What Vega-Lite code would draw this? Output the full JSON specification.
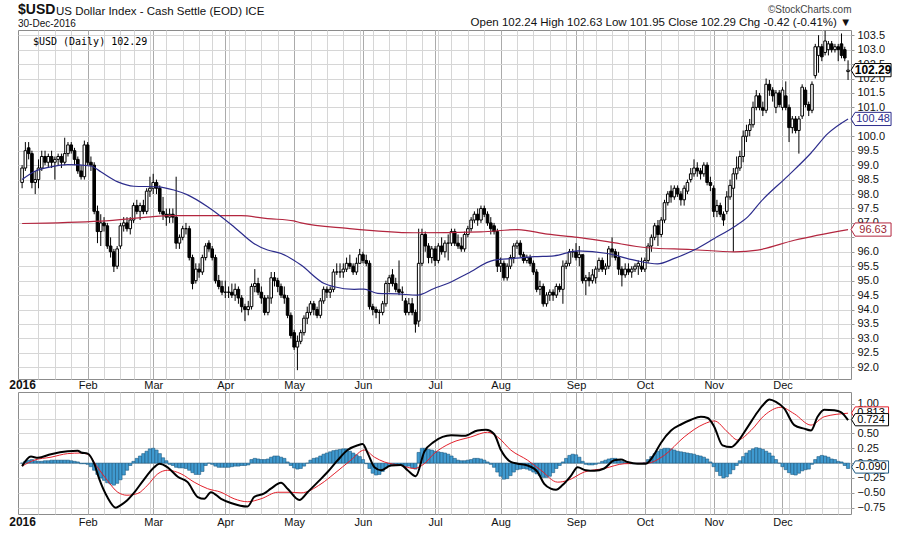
{
"$schema": "https://vega.github.io/schema/vega-lite/v6.json",
"background": "white",
"padding": {"left": 8, "top": 2, "right": 2, "bottom": 1},
"config": {
  "font": "Liberation Sans",
  "view": {"stroke": "#8c8c8c"},
  "axis": {"labelFont": "Liberation Sans", "labelColor": "#111111", "labelFontSize": 11, "gridColor": "#d6d6d6", "domain": false, "ticks": false, "labelOverlap": false},
  "title": {"font": "Liberation Sans", "color": "#111111", "subtitleFont": "Liberation Sans", "subtitleColor": "#111111"}
},
"title": {"text": "$USD", "subtitle": "30-Dec-2016", "anchor": "start", "fontSize": 14, "fontWeight": "bold", "subtitleFontSize": 10, "subtitlePadding": 2, "offset": -25, "dx": 0, "frame": "group"},
"spacing": 0,
"datasets": {
"px": [
{"i":0,"o":98.4,"h":99.0,"l":98.2,"c":98.9},{"i":1,"o":98.9,"h":99.8,"l":98.8,"c":99.5},{"i":2,"o":99.6,"h":99.8,"l":99.2,"c":99.4},{"i":3,"o":99.4,"h":99.5,"l":98.2,"c":98.4},{"i":4,"o":98.4,"h":98.8,"l":98.0,"c":98.5},
{"i":5,"o":98.5,"h":99.2,"l":98.2,"c":98.9},{"i":6,"o":98.9,"h":99.5,"l":98.8,"c":99.3},{"i":7,"o":99.3,"h":99.5,"l":99.0,"c":99.1},{"i":8,"o":99.1,"h":99.4,"l":98.9,"c":99.3},{"i":9,"o":99.3,"h":99.5,"l":98.9,"c":99.1},
{"i":10,"o":99.1,"h":99.3,"l":98.5,"c":99.2},{"i":11,"o":99.2,"h":99.4,"l":99.0,"c":99.3},{"i":12,"o":99.3,"h":99.4,"l":98.9,"c":99.1},{"i":13,"o":99.1,"h":99.95,"l":99.0,"c":99.4},{"i":14,"o":99.4,"h":99.8,"l":99.3,"c":99.7},
{"i":15,"o":99.7,"h":99.8,"l":99.4,"c":99.5},{"i":16,"o":99.5,"h":99.6,"l":99.0,"c":99.2},{"i":17,"o":99.2,"h":99.3,"l":98.7,"c":98.8},{"i":18,"o":98.8,"h":99.0,"l":98.5,"c":98.6},{"i":19,"o":98.6,"h":99.85,"l":98.5,"c":99.7},
{"i":20,"o":99.7,"h":99.8,"l":99.0,"c":99.1},{"i":21,"o":99.1,"h":99.3,"l":98.8,"c":99.0},{"i":22,"o":99.0,"h":99.1,"l":97.3,"c":97.4},{"i":23,"o":97.4,"h":97.6,"l":96.3,"c":96.7},{"i":24,"o":96.7,"h":97.3,"l":96.2,"c":97.0},
{"i":25,"o":97.0,"h":97.2,"l":96.7,"c":96.9},{"i":26,"o":96.9,"h":97.0,"l":96.1,"c":96.2},{"i":27,"o":96.2,"h":96.5,"l":95.8,"c":96.0},{"i":28,"o":96.0,"h":96.1,"l":95.3,"c":95.5},{"i":29,"o":95.5,"h":96.2,"l":95.4,"c":96.1},
{"i":30,"o":96.2,"h":97.0,"l":96.1,"c":96.9},{"i":31,"o":96.9,"h":97.2,"l":96.7,"c":97.0},{"i":32,"o":97.0,"h":97.2,"l":96.7,"c":96.8},{"i":33,"o":96.8,"h":97.2,"l":96.6,"c":97.1},{"i":34,"o":97.1,"h":97.7,"l":97.0,"c":97.6},
{"i":35,"o":97.6,"h":97.8,"l":97.3,"c":97.4},{"i":36,"o":97.4,"h":97.7,"l":97.1,"c":97.6},{"i":37,"o":97.6,"h":97.8,"l":97.3,"c":97.4},{"i":38,"o":97.4,"h":98.2,"l":97.3,"c":98.1},{"i":39,"o":98.1,"h":98.6,"l":97.9,"c":98.2},
{"i":40,"o":98.2,"h":98.7,"l":98.0,"c":98.4},{"i":41,"o":98.4,"h":98.5,"l":98.0,"c":98.2},{"i":42,"o":98.2,"h":98.3,"l":97.3,"c":97.4},{"i":43,"o":97.4,"h":97.9,"l":97.1,"c":97.3},{"i":44,"o":97.3,"h":97.5,"l":96.9,"c":97.2},
{"i":45,"o":97.2,"h":97.5,"l":97.0,"c":97.3},{"i":46,"o":97.3,"h":97.5,"l":97.0,"c":97.2},{"i":47,"o":97.2,"h":98.6,"l":96.1,"c":96.3},{"i":48,"o":96.3,"h":96.6,"l":96.1,"c":96.5},{"i":49,"o":96.5,"h":96.9,"l":96.4,"c":96.8},
{"i":50,"o":96.8,"h":97.0,"l":96.6,"c":96.8},{"i":51,"o":96.8,"h":96.9,"l":95.7,"c":95.8},{"i":52,"o":95.8,"h":95.9,"l":94.7,"c":94.9},{"i":53,"o":95.0,"h":95.6,"l":94.9,"c":95.4},{"i":54,"o":95.4,"h":95.6,"l":95.1,"c":95.3},
{"i":55,"o":95.3,"h":95.9,"l":95.2,"c":95.8},{"i":56,"o":95.8,"h":96.3,"l":95.7,"c":96.2},{"i":57,"o":96.3,"h":96.4,"l":96.0,"c":96.1},{"i":58,"o":96.1,"h":96.2,"l":95.7,"c":95.8},{"i":59,"o":95.8,"h":95.9,"l":94.9,"c":95.0},
{"i":60,"o":95.0,"h":95.2,"l":94.7,"c":94.8},{"i":61,"o":94.8,"h":95.0,"l":94.5,"c":94.6},{"i":62,"o":94.6,"h":95.0,"l":94.4,"c":94.6},{"i":63,"o":94.6,"h":94.8,"l":94.4,"c":94.6},{"i":64,"o":94.6,"h":94.9,"l":94.4,"c":94.5},
{"i":65,"o":94.5,"h":94.9,"l":94.3,"c":94.7},{"i":66,"o":94.7,"h":94.8,"l":94.2,"c":94.4},{"i":67,"o":94.4,"h":94.5,"l":93.9,"c":94.1},{"i":68,"o":94.1,"h":94.2,"l":93.6,"c":94.0},{"i":69,"o":94.0,"h":94.3,"l":93.8,"c":94.1},
{"i":70,"o":94.1,"h":94.9,"l":94.0,"c":94.8},{"i":71,"o":94.8,"h":95.4,"l":94.6,"c":94.9},{"i":72,"o":94.9,"h":95.1,"l":94.5,"c":94.6},{"i":73,"o":94.6,"h":94.8,"l":94.2,"c":94.4},{"i":74,"o":94.4,"h":94.5,"l":93.8,"c":93.9},
{"i":75,"o":93.9,"h":94.5,"l":93.8,"c":94.4},{"i":76,"o":94.4,"h":95.3,"l":94.2,"c":95.1},{"i":77,"o":95.1,"h":95.3,"l":94.8,"c":95.0},{"i":78,"o":95.0,"h":95.1,"l":94.6,"c":94.8},{"i":79,"o":94.8,"h":94.9,"l":94.4,"c":94.5},
{"i":80,"o":94.5,"h":94.8,"l":94.2,"c":94.4},{"i":81,"o":94.4,"h":94.5,"l":93.7,"c":93.8},{"i":82,"o":93.8,"h":93.9,"l":93.0,"c":93.1},{"i":83,"o":93.2,"h":93.3,"l":92.6,"c":92.7},{"i":84,"o":92.7,"h":93.1,"l":91.9,"c":92.9},
{"i":85,"o":92.9,"h":93.3,"l":92.8,"c":93.2},{"i":86,"o":93.2,"h":93.8,"l":93.1,"c":93.7},{"i":87,"o":93.7,"h":94.1,"l":93.5,"c":93.9},{"i":88,"o":93.9,"h":94.3,"l":93.8,"c":94.2},{"i":89,"o":94.2,"h":94.3,"l":93.8,"c":94.0},
{"i":90,"o":94.0,"h":94.1,"l":93.7,"c":93.8},{"i":91,"o":93.8,"h":94.4,"l":93.7,"c":94.3},{"i":92,"o":94.3,"h":94.8,"l":94.2,"c":94.7},{"i":93,"o":94.7,"h":94.8,"l":94.4,"c":94.6},{"i":94,"o":94.6,"h":94.8,"l":94.4,"c":94.7},
{"i":95,"o":94.7,"h":95.4,"l":94.6,"c":95.3},{"i":96,"o":95.3,"h":95.6,"l":95.2,"c":95.3},{"i":97,"o":95.3,"h":95.6,"l":95.1,"c":95.3},{"i":98,"o":95.3,"h":95.6,"l":95.1,"c":95.4},{"i":99,"o":95.4,"h":95.8,"l":95.3,"c":95.6},
{"i":100,"o":95.6,"h":95.9,"l":95.4,"c":95.5},{"i":101,"o":95.5,"h":95.6,"l":95.2,"c":95.3},{"i":102,"o":95.3,"h":95.8,"l":95.2,"c":95.6},{"i":103,"o":95.6,"h":96.1,"l":95.6,"c":95.9},{"i":104,"o":95.9,"h":96.0,"l":95.6,"c":95.7},
{"i":105,"o":95.7,"h":95.9,"l":95.5,"c":95.6},{"i":106,"o":95.6,"h":95.7,"l":94.0,"c":94.1},{"i":107,"o":94.1,"h":94.2,"l":93.8,"c":94.0},{"i":108,"o":94.0,"h":94.1,"l":93.7,"c":93.9},{"i":109,"o":93.9,"h":94.0,"l":93.5,"c":93.9},
{"i":110,"o":93.9,"h":94.3,"l":93.8,"c":94.2},{"i":111,"o":94.2,"h":95.0,"l":94.1,"c":94.9},{"i":112,"o":94.9,"h":95.2,"l":94.6,"c":95.1},{"i":113,"o":95.2,"h":95.4,"l":94.8,"c":94.9},{"i":114,"o":94.9,"h":95.1,"l":94.6,"c":94.7},
{"i":115,"o":94.7,"h":95.7,"l":94.5,"c":94.6},{"i":116,"o":94.6,"h":94.8,"l":94.3,"c":94.6},{"i":117,"o":94.3,"h":94.4,"l":93.8,"c":93.9},{"i":118,"o":93.9,"h":94.4,"l":93.8,"c":94.2},{"i":119,"o":94.2,"h":94.4,"l":93.8,"c":93.9},
{"i":120,"o":93.9,"h":94.0,"l":93.2,"c":93.5},{"i":121,"o":93.6,"h":96.8,"l":93.4,"c":95.6},{"i":122,"o":95.6,"h":96.8,"l":95.5,"c":96.6},{"i":123,"o":96.6,"h":96.7,"l":96.0,"c":96.2},{"i":124,"o":96.2,"h":96.3,"l":95.6,"c":95.8},
{"i":125,"o":95.8,"h":96.2,"l":95.6,"c":96.1},{"i":126,"o":96.1,"h":96.2,"l":95.5,"c":95.7},{"i":127,"o":95.7,"h":96.3,"l":95.6,"c":96.2},{"i":128,"o":96.2,"h":96.5,"l":95.9,"c":96.0},{"i":129,"o":96.0,"h":96.4,"l":95.8,"c":96.3},
{"i":130,"o":96.3,"h":96.6,"l":95.7,"c":96.3},{"i":131,"o":96.3,"h":96.8,"l":96.2,"c":96.7},{"i":132,"o":96.7,"h":96.8,"l":96.2,"c":96.3},{"i":133,"o":96.3,"h":96.6,"l":96.1,"c":96.2},{"i":134,"o":96.2,"h":96.5,"l":96.0,"c":96.1},
{"i":135,"o":96.1,"h":96.7,"l":96.0,"c":96.6},{"i":136,"o":96.6,"h":96.9,"l":96.5,"c":96.8},{"i":137,"o":96.8,"h":97.2,"l":96.7,"c":97.1},{"i":138,"o":97.1,"h":97.4,"l":97.0,"c":97.3},{"i":139,"o":97.3,"h":97.5,"l":96.9,"c":97.1},
{"i":140,"o":97.1,"h":97.6,"l":97.0,"c":97.5},{"i":141,"o":97.5,"h":97.6,"l":97.2,"c":97.3},{"i":142,"o":97.3,"h":97.4,"l":96.9,"c":97.0},{"i":143,"o":97.0,"h":97.2,"l":96.6,"c":96.8},{"i":144,"o":96.9,"h":97.0,"l":96.6,"c":96.7},
{"i":145,"o":96.7,"h":96.8,"l":95.3,"c":95.5},{"i":146,"o":95.5,"h":95.8,"l":95.3,"c":95.6},{"i":147,"o":95.6,"h":95.7,"l":95.0,"c":95.1},{"i":148,"o":95.1,"h":95.6,"l":95.0,"c":95.5},{"i":149,"o":95.5,"h":95.9,"l":95.4,"c":95.8},
{"i":150,"o":95.8,"h":96.3,"l":95.6,"c":96.2},{"i":151,"o":96.2,"h":96.4,"l":96.1,"c":96.3},{"i":152,"o":96.3,"h":96.4,"l":95.8,"c":95.9},{"i":153,"o":95.9,"h":96.0,"l":95.6,"c":95.7},{"i":154,"o":95.7,"h":95.9,"l":95.6,"c":95.8},
{"i":155,"o":95.8,"h":95.9,"l":95.5,"c":95.6},{"i":156,"o":95.6,"h":95.7,"l":95.2,"c":95.3},{"i":157,"o":95.3,"h":95.4,"l":94.6,"c":94.7},{"i":158,"o":94.7,"h":95.0,"l":94.5,"c":94.8},{"i":159,"o":94.8,"h":94.9,"l":94.1,"c":94.2},
{"i":160,"o":94.2,"h":94.6,"l":94.1,"c":94.5},{"i":161,"o":94.5,"h":94.7,"l":94.3,"c":94.6},{"i":162,"o":94.6,"h":94.7,"l":94.3,"c":94.5},{"i":163,"o":94.5,"h":94.9,"l":94.4,"c":94.8},{"i":164,"o":94.8,"h":94.9,"l":94.6,"c":94.7},
{"i":165,"o":94.7,"h":95.7,"l":94.2,"c":95.5},{"i":166,"o":95.5,"h":95.7,"l":95.4,"c":95.6},{"i":167,"o":95.6,"h":96.1,"l":95.5,"c":96.0},{"i":168,"o":96.0,"h":96.1,"l":95.8,"c":96.0},{"i":169,"o":96.0,"h":96.3,"l":95.7,"c":95.8},
{"i":170,"o":95.8,"h":96.2,"l":95.5,"c":95.9},{"i":171,"o":95.9,"h":95.9,"l":94.9,"c":95.0},{"i":172,"o":95.0,"h":95.2,"l":94.5,"c":95.1},{"i":173,"o":95.1,"h":95.3,"l":94.8,"c":95.0},{"i":174,"o":95.0,"h":95.4,"l":94.9,"c":95.2},
{"i":175,"o":95.1,"h":95.5,"l":94.9,"c":95.4},{"i":176,"o":95.4,"h":95.8,"l":95.3,"c":95.7},{"i":177,"o":95.7,"h":95.8,"l":95.3,"c":95.4},{"i":178,"o":95.4,"h":95.6,"l":95.2,"c":95.5},{"i":179,"o":95.5,"h":96.2,"l":95.4,"c":96.1},
{"i":180,"o":96.1,"h":96.5,"l":95.8,"c":96.0},{"i":181,"o":96.0,"h":96.1,"l":95.7,"c":95.8},{"i":182,"o":95.8,"h":96.0,"l":95.2,"c":95.4},{"i":183,"o":95.4,"h":95.5,"l":94.8,"c":95.2},{"i":184,"o":95.2,"h":95.6,"l":95.1,"c":95.4},
{"i":185,"o":95.4,"h":95.6,"l":95.2,"c":95.3},{"i":186,"o":95.3,"h":95.5,"l":95.1,"c":95.4},{"i":187,"o":95.4,"h":95.6,"l":95.3,"c":95.5},{"i":188,"o":95.5,"h":95.7,"l":95.2,"c":95.6},{"i":189,"o":95.5,"h":95.8,"l":95.3,"c":95.4},
{"i":190,"o":95.4,"h":95.8,"l":95.3,"c":95.7},{"i":191,"o":95.7,"h":96.3,"l":95.6,"c":96.2},{"i":192,"o":96.2,"h":96.6,"l":96.0,"c":96.5},{"i":193,"o":96.5,"h":97.0,"l":96.4,"c":96.9},{"i":194,"o":96.9,"h":97.1,"l":96.2,"c":96.6},
{"i":195,"o":96.6,"h":97.2,"l":96.5,"c":97.1},{"i":196,"o":97.1,"h":97.8,"l":97.0,"c":97.7},{"i":197,"o":97.7,"h":98.1,"l":97.6,"c":98.0},{"i":198,"o":98.1,"h":98.3,"l":97.7,"c":97.9},{"i":199,"o":97.9,"h":98.3,"l":97.8,"c":98.2},
{"i":200,"o":98.2,"h":98.3,"l":97.9,"c":98.0},{"i":201,"o":98.0,"h":98.1,"l":97.6,"c":97.8},{"i":202,"o":97.8,"h":98.3,"l":97.6,"c":98.2},{"i":203,"o":98.1,"h":98.5,"l":98.0,"c":98.4},{"i":204,"o":98.5,"h":98.9,"l":98.4,"c":98.7},
{"i":205,"o":98.7,"h":99.2,"l":98.6,"c":98.9},{"i":206,"o":98.9,"h":99.1,"l":98.6,"c":98.8},{"i":207,"o":98.8,"h":98.9,"l":98.5,"c":98.7},{"i":208,"o":98.7,"h":99.1,"l":98.6,"c":99.0},{"i":209,"o":99.0,"h":99.1,"l":98.3,"c":98.4},
{"i":210,"o":98.4,"h":98.6,"l":98.1,"c":98.3},{"i":211,"o":98.2,"h":98.3,"l":97.2,"c":97.4},{"i":212,"o":97.4,"h":97.8,"l":97.2,"c":97.6},{"i":213,"o":97.6,"h":97.7,"l":97.2,"c":97.3},{"i":214,"o":97.3,"h":97.4,"l":96.9,"c":97.1},
{"i":215,"o":97.4,"h":98.1,"l":97.3,"c":97.9},{"i":216,"o":97.9,"h":98.5,"l":97.8,"c":98.3},{"i":217,"o":98.2,"h":98.9,"l":96.0,"c":98.7},{"i":218,"o":98.7,"h":99.3,"l":98.5,"c":98.9},{"i":219,"o":98.9,"h":99.5,"l":98.8,"c":99.3},
{"i":220,"o":99.3,"h":100.2,"l":99.1,"c":100.0},{"i":221,"o":100.0,"h":100.4,"l":99.8,"c":100.2},{"i":222,"o":100.2,"h":100.6,"l":100.0,"c":100.4},{"i":223,"o":100.4,"h":101.2,"l":100.3,"c":101.0},{"i":224,"o":101.0,"h":101.6,"l":100.9,"c":101.4},
{"i":225,"o":101.4,"h":101.5,"l":100.9,"c":101.0},{"i":226,"o":101.0,"h":101.2,"l":100.7,"c":100.9},{"i":227,"o":100.9,"h":102.0,"l":100.8,"c":101.8},{"i":228,"o":101.8,"h":101.95,"l":101.4,"c":101.6},{"i":229,"o":101.6,"h":101.7,"l":101.2,"c":101.4},
{"i":230,"o":101.0,"h":101.6,"l":100.8,"c":101.5},{"i":231,"o":101.5,"h":101.6,"l":101.0,"c":101.1},{"i":232,"o":101.0,"h":101.7,"l":100.9,"c":101.6},{"i":233,"o":101.4,"h":101.9,"l":100.9,"c":101.0},{"i":234,"o":101.0,"h":101.1,"l":99.8,"c":100.3},
{"i":235,"o":100.3,"h":100.7,"l":100.1,"c":100.6},{"i":236,"o":100.6,"h":100.7,"l":100.1,"c":100.2},{"i":237,"o":100.2,"h":100.7,"l":99.4,"c":100.6},{"i":238,"o":100.7,"h":101.8,"l":100.6,"c":101.7},{"i":239,"o":101.6,"h":101.7,"l":101.0,"c":101.1},
{"i":240,"o":101.1,"h":101.2,"l":100.7,"c":100.9},{"i":241,"o":100.9,"h":101.9,"l":100.8,"c":101.8},{"i":242,"o":102.1,"h":103.2,"l":102.0,"c":103.1},{"i":243,"o":102.8,"h":103.5,"l":102.2,"c":103.1},{"i":244,"o":103.1,"h":103.2,"l":102.6,"c":102.75},
{"i":245,"o":102.9,"h":103.65,"l":102.8,"c":103.3},{"i":246,"o":103.0,"h":103.3,"l":102.8,"c":103.2},{"i":247,"o":103.2,"h":103.3,"l":102.9,"c":103.0},{"i":248,"o":103.0,"h":103.2,"l":102.9,"c":103.1},{"i":249,"o":103.1,"h":103.2,"l":102.6,"c":103.0},
{"i":250,"o":103.2,"h":103.56,"l":102.7,"c":102.8},{"i":251,"o":103.0,"h":103.1,"l":102.6,"c":102.71},{"i":252,"o":102.24,"h":102.63,"l":101.95,"c":102.29}
],
"hist": [
{"i":0,"h":0.0},{"i":1,"h":0.03},{"i":2,"h":0.05},{"i":3,"h":0.06},{"i":4,"h":0.04},{"i":5,"h":0.03},{"i":6,"h":0.03},{"i":7,"h":0.04},{"i":8,"h":0.04},{"i":9,"h":0.05},
{"i":10,"h":0.05},{"i":11,"h":0.05},{"i":12,"h":0.05},{"i":13,"h":0.05},{"i":14,"h":0.05},{"i":15,"h":0.04},{"i":16,"h":0.03},{"i":17,"h":0.02},{"i":18,"h":-0.01},{"i":19,"h":-0.01},
{"i":20,"h":-0.02},{"i":21,"h":-0.06},{"i":22,"h":-0.12},{"i":23,"h":-0.19},{"i":24,"h":-0.25},{"i":25,"h":-0.29},{"i":26,"h":-0.33},{"i":27,"h":-0.35},{"i":28,"h":-0.37},{"i":29,"h":-0.34},
{"i":30,"h":-0.28},{"i":31,"h":-0.2},{"i":32,"h":-0.12},{"i":33,"h":-0.04},{"i":34,"h":0.03},{"i":35,"h":0.08},{"i":36,"h":0.12},{"i":37,"h":0.16},{"i":38,"h":0.2},{"i":39,"h":0.24},
{"i":40,"h":0.25},{"i":41,"h":0.22},{"i":42,"h":0.16},{"i":43,"h":0.09},{"i":44,"h":0.04},{"i":45,"h":-0.02},{"i":46,"h":-0.04},{"i":47,"h":-0.07},{"i":48,"h":-0.08},{"i":49,"h":-0.08},
{"i":50,"h":-0.09},{"i":51,"h":-0.12},{"i":52,"h":-0.16},{"i":53,"h":-0.19},{"i":54,"h":-0.19},{"i":55,"h":-0.14},{"i":56,"h":-0.04},{"i":57,"h":0.0},{"i":58,"h":-0.02},{"i":59,"h":-0.05},
{"i":60,"h":-0.07},{"i":61,"h":-0.07},{"i":62,"h":-0.07},{"i":63,"h":-0.07},{"i":64,"h":-0.06},{"i":65,"h":-0.05},{"i":66,"h":-0.05},{"i":67,"h":-0.04},{"i":68,"h":-0.04},{"i":69,"h":-0.03},
{"i":70,"h":0.06},{"i":71,"h":0.08},{"i":72,"h":0.07},{"i":73,"h":0.06},{"i":74,"h":0.06},{"i":75,"h":0.07},{"i":76,"h":0.1},{"i":77,"h":0.12},{"i":78,"h":0.12},{"i":79,"h":0.1},
{"i":80,"h":0.08},{"i":81,"h":0.02},{"i":82,"h":-0.04},{"i":83,"h":-0.08},{"i":84,"h":-0.1},{"i":85,"h":-0.09},{"i":86,"h":-0.05},{"i":87,"h":0.0},{"i":88,"h":0.05},{"i":89,"h":0.08},
{"i":90,"h":0.09},{"i":91,"h":0.12},{"i":92,"h":0.15},{"i":93,"h":0.17},{"i":94,"h":0.19},{"i":95,"h":0.21},{"i":96,"h":0.22},{"i":97,"h":0.23},{"i":98,"h":0.24},{"i":99,"h":0.24},
{"i":100,"h":0.2},{"i":101,"h":0.17},{"i":102,"h":0.14},{"i":103,"h":0.11},{"i":104,"h":0.06},{"i":105,"h":-0.01},{"i":106,"h":-0.09},{"i":107,"h":-0.17},{"i":108,"h":-0.2},{"i":109,"h":-0.19},
{"i":110,"h":-0.14},{"i":111,"h":-0.08},{"i":112,"h":-0.05},{"i":113,"h":-0.04},{"i":114,"h":-0.03},{"i":115,"h":-0.03},{"i":116,"h":-0.04},{"i":117,"h":-0.06},{"i":118,"h":-0.05},{"i":119,"h":-0.08},
{"i":120,"h":-0.1},{"i":121,"h":0.18},{"i":122,"h":0.25},{"i":123,"h":0.25},{"i":124,"h":0.23},{"i":125,"h":0.22},{"i":126,"h":0.2},{"i":127,"h":0.19},{"i":128,"h":0.18},{"i":129,"h":0.17},
{"i":130,"h":0.15},{"i":131,"h":0.12},{"i":132,"h":0.08},{"i":133,"h":0.05},{"i":134,"h":0.04},{"i":135,"h":0.04},{"i":136,"h":0.05},{"i":137,"h":0.06},{"i":138,"h":0.08},{"i":139,"h":0.08},
{"i":140,"h":0.07},{"i":141,"h":0.05},{"i":142,"h":0.02},{"i":143,"h":-0.02},{"i":144,"h":-0.07},{"i":145,"h":-0.15},{"i":146,"h":-0.22},{"i":147,"h":-0.27},{"i":148,"h":-0.26},{"i":149,"h":-0.21},
{"i":150,"h":-0.15},{"i":151,"h":-0.11},{"i":152,"h":-0.1},{"i":153,"h":-0.09},{"i":154,"h":-0.1},{"i":155,"h":-0.12},{"i":156,"h":-0.15},{"i":157,"h":-0.18},{"i":158,"h":-0.21},{"i":159,"h":-0.24},
{"i":160,"h":-0.24},{"i":161,"h":-0.22},{"i":162,"h":-0.16},{"i":163,"h":-0.09},{"i":164,"h":-0.04},{"i":165,"h":0.02},{"i":166,"h":0.08},{"i":167,"h":0.13},{"i":168,"h":0.15},{"i":169,"h":0.14},
{"i":170,"h":0.1},{"i":171,"h":0.03},{"i":172,"h":-0.02},{"i":173,"h":-0.03},{"i":174,"h":-0.03},{"i":175,"h":-0.02},{"i":176,"h":0.0},{"i":177,"h":0.03},{"i":178,"h":0.05},{"i":179,"h":0.07},
{"i":180,"h":0.08},{"i":181,"h":0.08},{"i":182,"h":0.06},{"i":183,"h":0.03},{"i":184,"h":0.01},{"i":185,"h":0.0},{"i":186,"h":-0.01},{"i":187,"h":-0.01},{"i":188,"h":0.0},{"i":189,"h":0.0},
{"i":190,"h":0.01},{"i":191,"h":0.06},{"i":192,"h":0.11},{"i":193,"h":0.16},{"i":194,"h":0.2},{"i":195,"h":0.23},{"i":196,"h":0.25},{"i":197,"h":0.25},{"i":198,"h":0.24},{"i":199,"h":0.22},
{"i":200,"h":0.2},{"i":201,"h":0.19},{"i":202,"h":0.18},{"i":203,"h":0.17},{"i":204,"h":0.16},{"i":205,"h":0.15},{"i":206,"h":0.13},{"i":207,"h":0.12},{"i":208,"h":0.1},{"i":209,"h":0.07},
{"i":210,"h":0.02},{"i":211,"h":-0.06},{"i":212,"h":-0.14},{"i":213,"h":-0.21},{"i":214,"h":-0.25},{"i":215,"h":-0.23},{"i":216,"h":-0.18},{"i":217,"h":-0.11},{"i":218,"h":-0.04},{"i":219,"h":0.04},
{"i":220,"h":0.11},{"i":221,"h":0.17},{"i":222,"h":0.21},{"i":223,"h":0.24},{"i":224,"h":0.26},{"i":225,"h":0.25},{"i":226,"h":0.23},{"i":227,"h":0.2},{"i":228,"h":0.17},{"i":229,"h":0.12},
{"i":230,"h":0.06},{"i":231,"h":0.0},{"i":232,"h":-0.06},{"i":233,"h":-0.11},{"i":234,"h":-0.16},{"i":235,"h":-0.19},{"i":236,"h":-0.2},{"i":237,"h":-0.17},{"i":238,"h":-0.13},{"i":239,"h":-0.11},
{"i":240,"h":-0.1},{"i":241,"h":-0.02},{"i":242,"h":0.06},{"i":243,"h":0.11},{"i":244,"h":0.13},{"i":245,"h":0.12},{"i":246,"h":0.1},{"i":247,"h":0.07},{"i":248,"h":0.06},{"i":249,"h":0.03},
{"i":250,"h":0.02},{"i":251,"h":-0.04},{"i":252,"h":-0.09}
],
"ma50": [
{"i":0,"v":98.5},{"i":3.6,"v":98.77},{"i":8.8,"v":98.94},{"i":13.9,"v":99.02},{"i":21,"v":98.97},{"i":24,"v":98.77},{"i":29.2,"v":98.42},{"i":34.1,"v":98.27},{"i":41.4,"v":98.25},{"i":46.3,"v":98.14},
{"i":50.5,"v":97.97},{"i":56.6,"v":97.56},{"i":64.6,"v":96.87},{"i":70.7,"v":96.29},{"i":74.9,"v":96.06},{"i":79,"v":95.94},{"i":82.9,"v":95.71},{"i":85.1,"v":95.54},{"i":92.2,"v":94.9},{"i":95.2,"v":94.79},
{"i":101.3,"v":94.7},{"i":104.3,"v":94.71},{"i":108.5,"v":94.56},{"i":114.6,"v":94.54},{"i":120.6,"v":94.5},{"i":125.7,"v":94.73},{"i":129.8,"v":94.9},{"i":135.9,"v":95.25},{"i":144,"v":95.71},{"i":150,"v":95.77},
{"i":156.2,"v":95.83},{"i":162.3,"v":95.86},{"i":169.5,"v":96.03},{"i":178.6,"v":95.94},{"i":186.8,"v":95.71},{"i":193.9,"v":95.58},{"i":199,"v":95.77},{"i":205,"v":96.06},{"i":211.2,"v":96.46},{"i":217.3,"v":96.87},
{"i":221.4,"v":97.21},{"i":225.4,"v":97.74},{"i":233.6,"v":98.62},{"i":240.7,"v":99.42},{"i":245.8,"v":100.09},{"i":252,"v":100.6}
],
"ma200": [
{"i":0,"v":96.98},{"i":24,"v":97.06},{"i":39.3,"v":97.21},{"i":44.4,"v":97.25},{"i":66.8,"v":97.25},{"i":74.9,"v":97.15},{"i":82.9,"v":97.07},{"i":85.1,"v":97.0},{"i":99.3,"v":96.81},{"i":119.6,"v":96.66},
{"i":140,"v":96.69},{"i":151.2,"v":96.77},{"i":160.3,"v":96.61},{"i":169.5,"v":96.5},{"i":178.6,"v":96.35},{"i":190.8,"v":96.14},{"i":204.1,"v":96.08},{"i":217.3,"v":96.0},{"i":224.4,"v":96.06},{"i":235.6,"v":96.4},
{"i":252,"v":96.77}
],
"macd": [
{"i":0,"v":-0.05},{"i":2.7,"v":0.11},{"i":4.8,"v":0.09},{"i":8.8,"v":0.15},{"i":13.9,"v":0.2},{"i":17,"v":0.21},{"i":18,"v":0.18},{"i":20,"v":0.16},{"i":22,"v":-0.01},{"i":23.5,"v":-0.26},
{"i":26,"v":-0.57},{"i":28.6,"v":-0.75},{"i":30,"v":-0.71},{"i":32,"v":-0.63},{"i":34,"v":-0.51},{"i":37,"v":-0.29},{"i":40.3,"v":-0.07},{"i":41.9,"v":-0.01},{"i":44.4,"v":-0.07},{"i":47.5,"v":-0.23},
{"i":50.5,"v":-0.32},{"i":53.6,"v":-0.57},{"i":55.6,"v":-0.6},{"i":57.6,"v":-0.49},{"i":60.7,"v":-0.6},{"i":63.7,"v":-0.67},{"i":68.8,"v":-0.73},{"i":70.8,"v":-0.57},{"i":73.9,"v":-0.51},{"i":75.9,"v":-0.43},
{"i":79,"v":-0.33},{"i":81,"v":-0.43},{"i":84.6,"v":-0.62},{"i":87.1,"v":-0.49},{"i":90.2,"v":-0.32},{"i":93.2,"v":-0.15},{"i":96.3,"v":0.05},{"i":99.3,"v":0.22},{"i":102.4,"v":0.3},{"i":103.9,"v":0.32},
{"i":105.5,"v":0.16},{"i":107.5,"v":-0.07},{"i":109.5,"v":-0.12},{"i":112.5,"v":-0.04},{"i":115.6,"v":-0.03},{"i":117.6,"v":-0.12},{"i":120.1,"v":-0.22},{"i":122.7,"v":0.19},{"i":125.7,"v":0.36},{"i":130.9,"v":0.47},
{"i":134.9,"v":0.46},{"i":139,"v":0.55},{"i":141.5,"v":0.56},{"i":144,"v":0.49},{"i":146.1,"v":0.22},{"i":149.1,"v":0.02},{"i":151.2,"v":-0.01},{"i":154.2,"v":-0.04},{"i":157.3,"v":-0.15},{"i":159.3,"v":-0.35},
{"i":161.3,"v":-0.43},{"i":162.9,"v":-0.45},{"i":164.9,"v":-0.37},{"i":167.5,"v":-0.21},{"i":169.5,"v":-0.07},{"i":172,"v":-0.12},{"i":174.6,"v":-0.13},{"i":177.6,"v":-0.09},{"i":180.7,"v":0.05},{"i":182.7,"v":0.06},
{"i":184.7,"v":0.02},{"i":187.8,"v":-0.01},{"i":190.3,"v":-0.01},{"i":192.9,"v":0.15},{"i":194.9,"v":0.34},{"i":198,"v":0.55},{"i":201,"v":0.65},{"i":204.1,"v":0.73},{"i":207.1,"v":0.78},{"i":209.2,"v":0.76},
{"i":211.2,"v":0.61},{"i":213.7,"v":0.3},{"i":216.3,"v":0.27},{"i":218.3,"v":0.36},{"i":221.4,"v":0.61},{"i":224.4,"v":0.86},{"i":226.4,"v":1.0},{"i":228,"v":1.07},{"i":230,"v":1.03},{"i":232.5,"v":0.92},
{"i":235.6,"v":0.64},{"i":238.6,"v":0.58},{"i":240.7,"v":0.55},{"i":242.7,"v":0.78},{"i":244.7,"v":0.9},{"i":247.8,"v":0.89},{"i":249.8,"v":0.86},{"i":252,"v":0.724}
],
"sig": [
{"i":0,"v":-0.05},{"i":3.7,"v":0.05},{"i":8.8,"v":0.1},{"i":13.9,"v":0.16},{"i":18,"v":0.17},{"i":20,"v":0.15},{"i":23,"v":-0.07},{"i":26,"v":-0.29},{"i":29.2,"v":-0.49},{"i":32,"v":-0.54},
{"i":35.3,"v":-0.51},{"i":38.3,"v":-0.37},{"i":41.4,"v":-0.18},{"i":44.4,"v":-0.12},{"i":48.5,"v":-0.18},{"i":52.5,"v":-0.32},{"i":56.6,"v":-0.43},{"i":60.7,"v":-0.49},{"i":64.7,"v":-0.6},{"i":68.8,"v":-0.65},
{"i":72.9,"v":-0.6},{"i":78,"v":-0.49},{"i":82,"v":-0.49},{"i":85.1,"v":-0.5},{"i":91.2,"v":-0.35},{"i":95.2,"v":-0.18},{"i":100.3,"v":0.05},{"i":104.4,"v":0.22},{"i":107.5,"v":0.1},{"i":110.5,"v":0.02},
{"i":115.6,"v":-0.04},{"i":119.6,"v":-0.09},{"i":122.7,"v":-0.01},{"i":125.7,"v":0.16},{"i":130.9,"v":0.34},{"i":136.9,"v":0.44},{"i":142,"v":0.52},{"i":145.1,"v":0.44},{"i":149.1,"v":0.22},{"i":154.2,"v":0.05},
{"i":158.3,"v":-0.12},{"i":163.4,"v":-0.32},{"i":166.5,"v":-0.29},{"i":171.5,"v":-0.15},{"i":177.6,"v":-0.09},{"i":183.7,"v":-0.01},{"i":190.8,"v":0.0},{"i":195.9,"v":0.13},{"i":202,"v":0.44},{"i":208.1,"v":0.66},
{"i":211.2,"v":0.71},{"i":215.3,"v":0.52},{"i":218.3,"v":0.39},{"i":222.4,"v":0.55},{"i":226.4,"v":0.8},{"i":231.5,"v":0.94},{"i":235.6,"v":0.83},{"i":240.7,"v":0.64},{"i":244.7,"v":0.78},{"i":252,"v":0.84}
],
"tagsA": [
{"i":252,"v":96.77,"t":"96.63","s":"ma200"},{"i":252,"v":100.6,"t":"100.48","s":"ma50"},{"i":252,"v":102.29,"t":"102.29","s":"close"}
],
"tagsB": [
{"i":252,"v":-0.065,"t":"-0.090","s":"hist"},{"i":252,"v":0.844,"t":"0.813","s":"signal"},{"i":252,"v":0.731,"t":"0.724","s":"macd"}
]
},
"vconcat": [
{
  "width": 833, "height": 349,
  "title": {"text": "US Dollar Index - Cash Settle (EOD) ICE", "anchor": "start", "dx": 38, "fontSize": 11.5, "fontWeight": "normal", "offset": -13, "frame": "group"},
  "resolve": {"axis": {"x": "independent"}},
  "layer": [
    {
      "data": {"name": "px"},
      "mark": {"type": "rule", "color": "#000000", "strokeWidth": 1},
      "encoding": {
        "x": {"field": "i", "type": "quantitative", "scale": {"domain": [-1.25, 252.9], "nice": false, "zero": false, "padding": 0},
              "axis": {"orient": "top", "tickCount": 200, "values": [5,10,15,25,30,34,39,44,49,54,58,63,68,73,78,88,93,98,103,107,112,117,122,127,131,136,141,151,156,161,166,171,175,180,185,195,200,205,210,215,220,225,229,234,239,244,249],
                       "grid": true, "gridColor": "#d6d6d6", "labels": false,
                       "title": "Open 102.24  High 102.63  Low 101.95  Close 102.29  Chg -0.42 (-0.41%) ▼", "titleAnchor": "end", "titleFontSize": 11.5, "titleFontWeight": "normal", "titleColor": "#111111", "titlePadding": 3}},
        "y": {"field": "l", "type": "quantitative", "scale": {"domain": [91.595, 103.68], "nice": false, "zero": false},
              "axis": {"orient": "right", "tickCount": 200, "values": [92,92.5,93,93.5,94,94.5,95,95.5,96,96.5,97,97.5,98,98.5,99,99.5,100,100.5,101,101.5,102,102.5,103,103.5],
                       "labelExpr": "datum.value == 100.5 || datum.value == 96.5 ? '' : format(datum.value, '.1f')",
                       "labelOverlap": false, "grid": true, "gridColor": "#d6d6d6", "ticks": true, "tickSize": 3, "tickColor": "#999999", "labelPadding": 3, "title": null}},
        "y2": {"field": "h"}
      }
    },
    {
      "data": {"name": "px"},
      "mark": {"type": "bar", "width": 2.6, "stroke": "#000000", "strokeWidth": 1},
      "encoding": {
        "x": {"field": "i", "type": "quantitative",
              "axis": {"orient": "bottom", "tickCount": 200, "values": [0,20,40,62,83,104,126,146,169,190,211,232],
                       "grid": true, "gridColor": "#ababab", "gridOpacity": {"condition": {"test": "datum.value == 0", "value": 0}, "value": 1},
                       "labelExpr": "['2016','Feb','Mar','Apr','May','Jun','Jul','Aug','Sep','Oct','Nov','Dec'][indexof([0,20,40,62,83,104,126,146,169,190,211,232], datum.value)]",
                       "labelFontWeight": {"condition": {"test": "datum.value == 0", "value": "bold"}, "value": "normal"},
                       "labelFontSize": {"condition": {"test": "datum.value == 0", "value": 12}, "value": 11},
                       "labelOverlap": false, "labelBaseline": "top", "labelPadding": 0, "title": null}},
        "y": {"field": "o", "type": "quantitative", "title": null},
        "y2": {"field": "c"},
        "fill": {"condition": {"test": "datum.c > datum.o", "value": "#ffffff"}, "value": "#000000"}
      }
    },
    {
      "data": {"name": "ma200"},
      "mark": {"type": "line", "color": "#b3263f", "strokeWidth": 1.2, "interpolate": "monotone"},
      "encoding": {
        "x": {"field": "i", "type": "quantitative",
              "axis": {"orient": "top", "grid": false, "labels": false, "values": [], "title": "©StockCharts.com", "titleAnchor": "end", "titleFontSize": 10, "titleFontWeight": "normal", "titleColor": "#444444", "titlePadding": 16}},
        "y": {"field": "v", "type": "quantitative", "title": null}
      }
    },
    {
      "data": {"name": "ma50"},
      "mark": {"type": "line", "color": "#2c2c8c", "strokeWidth": 1.2, "interpolate": "monotone"},
      "encoding": {
        "x": {"field": "i", "type": "quantitative", "axis": null},
        "y": {"field": "v", "type": "quantitative", "title": null}
      }
    },
    {
      "data": {"values": [{"t": "$USD (Daily) 102.29"}]},
      "mark": {"type": "text", "align": "left", "baseline": "middle", "font": "DejaVu Sans Mono", "fontSize": 10, "color": "#000000"},
      "encoding": {
        "x": {"datum": 3.3, "type": "quantitative", "axis": null},
        "y": {"datum": 103.25, "type": "quantitative"},
        "text": {"field": "t"}
      }
    },
    {
      "data": {"name": "tagsA"},
      "mark": {"type": "point", "shape": "M-1,0L-0.8,-0.33L1,-0.33L1,0.33L-0.8,0.33Z", "size": 1600, "filled": false, "fill": "#ffffff", "fillOpacity": 1, "strokeWidth": 1, "opacity": 1, "xOffset": 23},
      "encoding": {
        "x": {"field": "i", "type": "quantitative", "axis": null},
        "y": {"field": "v", "type": "quantitative", "title": null},
        "stroke": {"field": "s", "type": "nominal", "scale": {"domain": ["close","ma50","ma200"], "range": ["#000000","#2c2c8c","#b3263f"]}, "legend": null}
      }
    },
    {
      "data": {"name": "tagsA"},
      "transform": [{"filter": "datum.s != 'close'"}],
      "mark": {"type": "text", "align": "center", "baseline": "middle", "fontSize": 11, "dx": 25},
      "encoding": {
        "x": {"field": "i", "type": "quantitative", "axis": null},
        "y": {"field": "v", "type": "quantitative", "title": null},
        "text": {"field": "t"},
        "color": {"field": "s", "type": "nominal", "scale": {"domain": ["close","ma50","ma200"], "range": ["#000000","#2c2c8c","#9a1f35"]}, "legend": null}
      }
    },
    {
      "data": {"name": "tagsA"},
      "transform": [{"filter": "datum.s == 'close'"}],
      "mark": {"type": "text", "align": "center", "baseline": "middle", "fontSize": 12, "fontWeight": "bold", "dx": 25, "color": "#000000"},
      "encoding": {
        "x": {"field": "i", "type": "quantitative", "axis": null},
        "y": {"field": "v", "type": "quantitative", "title": null},
        "text": {"field": "t"}
      }
    }
  ]
},
{
  "width": 833, "height": 122,
  "resolve": {"axis": {"x": "independent"}},
  "layer": [
    {
      "data": {"name": "hist"},
      "mark": {"type": "bar", "width": 3.28, "fill": "#3f9ad0", "stroke": "#1f5a82", "strokeWidth": 0.6},
      "encoding": {
        "x": {"field": "i", "type": "quantitative", "scale": {"domain": [-1.25, 252.9], "nice": false, "zero": false, "padding": 0},
              "axis": {"orient": "top", "tickCount": 200, "values": [5,10,15,25,30,34,39,44,49,54,58,63,68,73,78,88,93,98,103,107,112,117,122,127,131,136,141,151,156,161,166,171,175,180,185,195,200,205,210,215,220,225,229,234,239,244,249],
                       "grid": true, "gridColor": "#d6d6d6", "labels": false, "title": null}},
        "y": {"field": "h", "type": "quantitative", "scale": {"domain": [-0.856, 1.197], "nice": false, "zero": false},
              "axis": {"orient": "right", "tickCount": 200, "values": [-0.75,-0.5,-0.25,0,0.25,0.5,0.75,1],
                       "labelExpr": "datum.value == 0.75 ? '' : format(datum.value, '.2f')",
                       "labelOverlap": false, "grid": true, "gridColor": "#d6d6d6", "ticks": true, "tickSize": 3, "tickColor": "#999999", "labelPadding": 3, "title": null}},
        "y2": {"datum": 0}
      }
    },
    {
      "data": {"name": "sig"},
      "mark": {"type": "line", "color": "#e3202b", "strokeWidth": 1, "interpolate": "monotone"},
      "encoding": {
        "x": {"field": "i", "type": "quantitative",
              "axis": {"orient": "bottom", "tickCount": 200, "values": [0,20,40,62,83,104,126,146,169,190,211,232],
                       "grid": true, "gridColor": "#ababab", "gridOpacity": {"condition": {"test": "datum.value == 0", "value": 0}, "value": 1},
                       "labelExpr": "['2016','Feb','Mar','Apr','May','Jun','Jul','Aug','Sep','Oct','Nov','Dec'][indexof([0,20,40,62,83,104,126,146,169,190,211,232], datum.value)]",
                       "labelFontWeight": {"condition": {"test": "datum.value == 0", "value": "bold"}, "value": "normal"},
                       "labelFontSize": {"condition": {"test": "datum.value == 0", "value": 12}, "value": 11},
                       "labelOverlap": false, "labelBaseline": "top", "labelPadding": 2, "title": null}},
        "y": {"field": "v", "type": "quantitative", "title": null}
      }
    },
    {
      "data": {"name": "macd"},
      "mark": {"type": "line", "color": "#000000", "strokeWidth": 2, "interpolate": "monotone"},
      "encoding": {
        "x": {"field": "i", "type": "quantitative", "axis": null},
        "y": {"field": "v", "type": "quantitative", "title": null}
      }
    },
    {
      "data": {"name": "tagsB"},
      "transform": [{"filter": "datum.s == 'hist'"}],
      "mark": {"type": "point", "shape": "M-1,0L-0.8,-0.33L1,-0.33L1,0.33L-0.8,0.33Z", "size": 1369, "filled": false, "fill": "#ffffff", "fillOpacity": 1, "stroke": "#1f5a82", "strokeWidth": 1, "opacity": 1, "xOffset": 22},
      "encoding": {
        "x": {"field": "i", "type": "quantitative", "axis": null},
        "y": {"field": "v", "type": "quantitative", "title": null}
      }
    },
    {
      "data": {"name": "tagsB"},
      "transform": [{"filter": "datum.s == 'hist'"}],
      "mark": {"type": "text", "align": "center", "baseline": "middle", "fontSize": 11, "dx": 23, "color": "#000000"},
      "encoding": {
        "x": {"field": "i", "type": "quantitative", "axis": null},
        "y": {"field": "v", "type": "quantitative", "title": null},
        "text": {"field": "t"}
      }
    },
    {
      "data": {"name": "tagsB"},
      "transform": [{"filter": "datum.s == 'signal'"}],
      "mark": {"type": "point", "shape": "M-1,0L-0.8,-0.33L1,-0.33L1,0.33L-0.8,0.33Z", "size": 1369, "filled": false, "fill": "#ffffff", "fillOpacity": 1, "stroke": "#e3202b", "strokeWidth": 1, "opacity": 1, "xOffset": 22},
      "encoding": {
        "x": {"field": "i", "type": "quantitative", "axis": null},
        "y": {"field": "v", "type": "quantitative", "title": null}
      }
    },
    {
      "data": {"name": "tagsB"},
      "transform": [{"filter": "datum.s == 'signal'"}],
      "mark": {"type": "text", "align": "center", "baseline": "middle", "fontSize": 11, "dx": 23, "color": "#000000"},
      "encoding": {
        "x": {"field": "i", "type": "quantitative", "axis": null},
        "y": {"field": "v", "type": "quantitative", "title": null},
        "text": {"field": "t"}
      }
    },
    {
      "data": {"name": "tagsB"},
      "transform": [{"filter": "datum.s == 'macd'"}],
      "mark": {"type": "point", "shape": "M-1,0L-0.8,-0.33L1,-0.33L1,0.33L-0.8,0.33Z", "size": 1369, "filled": false, "fill": "#ffffff", "fillOpacity": 1, "stroke": "#000000", "strokeWidth": 1, "opacity": 1, "xOffset": 22},
      "encoding": {
        "x": {"field": "i", "type": "quantitative", "axis": null},
        "y": {"field": "v", "type": "quantitative", "title": null}
      }
    },
    {
      "data": {"name": "tagsB"},
      "transform": [{"filter": "datum.s == 'macd'"}],
      "mark": {"type": "text", "align": "center", "baseline": "middle", "fontSize": 11, "dx": 23, "color": "#000000"},
      "encoding": {
        "x": {"field": "i", "type": "quantitative", "axis": null},
        "y": {"field": "v", "type": "quantitative", "title": null},
        "text": {"field": "t"}
      }
    }
  ]
}
]
}
